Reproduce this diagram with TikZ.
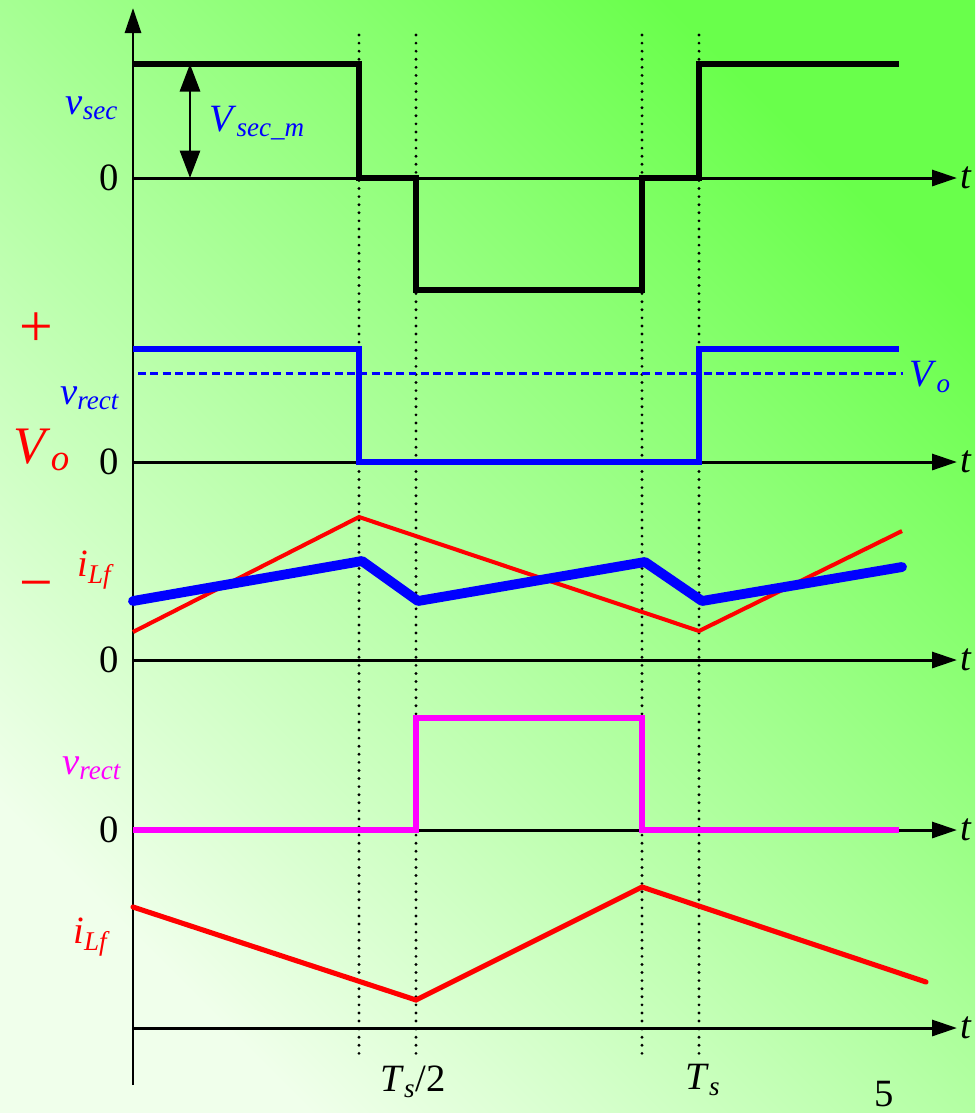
\documentclass[tikz,border=0pt]{standalone}
\usepackage{fontspec}
\setmainfont{Liberation Serif}
\usepackage{tikz}
\usetikzlibrary{arrows.meta}
\definecolor{bgtop}{RGB}{105,255,75}
\definecolor{bgbot}{RGB}{240,255,235}
\definecolor{wblue}{RGB}{0,0,255}
\definecolor{wred}{RGB}{255,0,0}
\definecolor{wmag}{RGB}{255,0,255}
\newcommand{\sublbl}[2]{\textit{#1}\textsubscript{\textit{#2}}}

\begin{document}
\begin{tikzpicture}[x=0.02cm,y=-0.02cm,font=\fontsize{22}{26}\selectfont,
  axis/.style={line width=1.7pt,-{Triangle[length=0.5cm,width=0.32cm]}},
  guide/.style={line width=1.8pt,dash pattern=on 0pt off 4.6pt,line cap=round},
  wave/.style={line width=2.9pt},
  sign/.style={wred,font=\fontsize{34}{38}\selectfont},
  zero/.style={anchor=east}]
  \useasboundingbox (0,0) rectangle (975,1113);
  % background
  \shade[shading=axis,top color=bgtop,bottom color=bgbot,shading angle=-45] (0,0) rectangle (975,1113);

  % vertical axis and time axes
  \coordinate (org) at (133,1085);
  \coordinate (ytip) at (133,8);
  \draw[axis] (org) -- (ytip);
  \foreach \y/\n in {178/a,462/b,660/c,830/d,1028/e} {
      \coordinate (ax\n) at (133,\y);
      \coordinate (end\n) at (957,\y);
      \draw[axis] (ax\n) -- (end\n);
      \node[anchor=west,inner sep=2pt] (t\n) at (end\n) {\textit{t}};
  }
  \foreach \y/\n in {178/a,462/b,660/c,830/d}
      \node[zero] (zero\n) at (125,\y) {0};

  % switching instants
  \foreach \x in {359,416,642,699}
      \draw[guide] (\x,35) -- (\x,1058);

  % secondary voltage
  \draw[wave] (133,64) -- (359,64) -- (359,178) -- (416,178) -- (416,290)
      -- (642,290) -- (642,178) -- (699,178) -- (699,64) -- (899,64);
  \draw[line width=1.7pt,{Triangle[length=0.55cm,width=0.4cm]}-{Triangle[length=0.55cm,width=0.4cm]}]
      (190,64) -- (190,178);
  \node[wblue] (vsec) at (92,108) {\sublbl{v}{sec}};
  \node[wblue,anchor=west] (vsecm) at (203,123) {\sublbl{V}{sec\_m}};

  % rectified voltage (blue)
  \draw[wblue,line width=3.1pt] (133,349) -- (359,349) -- (359,462) -- (699,462)
      -- (699,349) -- (899,349);
  \draw[wblue,line width=1.7pt,dash pattern=on 4.5pt off 2.5pt] (138,373) -- (903,373);
  \node[wblue,anchor=west] (vo) at (903,377) {\sublbl{V}{o}};
  \node[wblue] (vrect) at (90,398) {\sublbl{v}{rect}};

  % output voltage marks
  \node[sign] (plus) at (36,330) {+};
  \node[wred,font=\fontsize{30}{34}\selectfont] (bigvo) at (42,450) {\sublbl{V}{o}};
  \node[sign] (minus) at (36,592) {−};

  % inductor current and ripple
  \draw[wred,line width=2.3pt] (133,632) -- (359,517) -- (699,631) -- (902,531);
  \draw[wblue,line width=5.6pt,line cap=round,line join=round] (133,601) -- (362,561)
      -- (418,601) -- (645,562) -- (702,601) -- (902,567);
  \node[wred] (ilf) at (96,570) {\sublbl{i}{Lf}};

  % rectified voltage (magenta)
  \draw[wmag,line width=2.9pt] (133,830) -- (416,830) -- (416,718) -- (642,718)
      -- (642,830) -- (899,830);
  \node[wmag] (vrectb) at (92,768) {\sublbl{v}{rect}};

  % inductor current
  \draw[wred,line width=2.9pt,line cap=round] (133,907) -- (416,1000) -- (642,887) -- (926,982);
  \node[wred] (ilfb) at (92,937) {\sublbl{i}{Lf}};

  % time marks
  \node (half) at (413,1082) {\textit{T}\textsubscript{\textit{s}}/2};
  \node (ts) at (703,1080) {\sublbl{T}{s}};
  \node[inner sep=1pt] (pg) at (884,1094) {5};
\end{tikzpicture}
\end{document}
